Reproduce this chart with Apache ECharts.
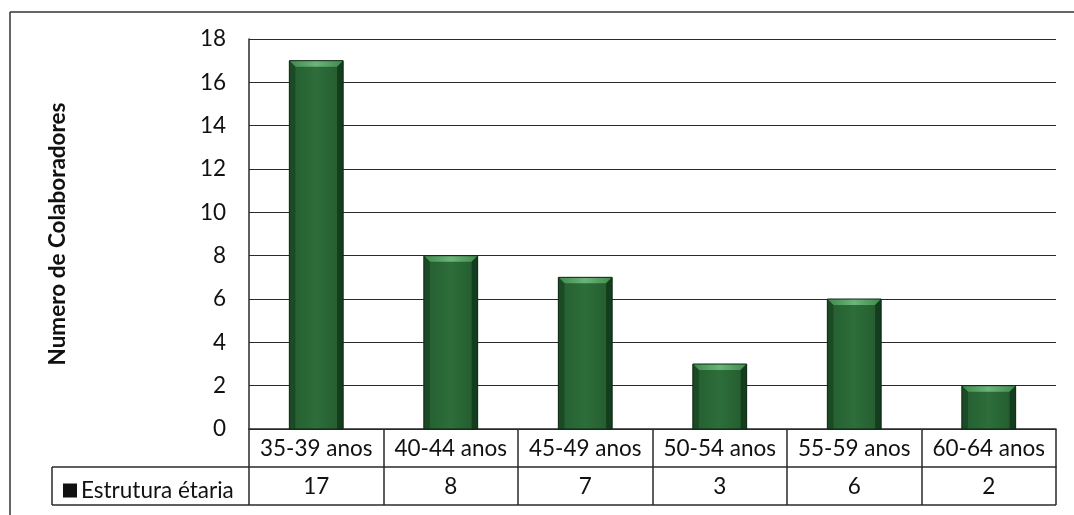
<!DOCTYPE html>
<html>
<head>
<meta charset="utf-8">
<script src="https://cdn.jsdelivr.net/npm/echarts@6/dist/echarts.min.js"></script>
<style>
  html, body { margin: 0; padding: 0; background: #fff; }
  #chart { width: 1074px; height: 515px; }
</style>
</head>
<body>
<div id="chart"></div>
<script>
// Age structure of staff
const categories = ['35-39 anos', '40-44 anos', '45-49 anos', '50-54 anos', '55-59 anos', '60-64 anos'];
const values = [17, 8, 7, 3, 6, 2];
const seriesName = 'Estrutura étaria';
const yTitle = 'Numero de Colaboradores';

const FONT = 'Lato';
const FS = 22.5;
const LINE = '#2a2a2a';

const chart = echarts.init(document.getElementById('chart'), null, { renderer: 'canvas' });

// Bevelled bar: face, light top bevel, darker side bevels, dark outline
function renderBevelBar(params, api) {
  const cat = api.value(0);
  const val = api.value(1);
  const top = api.coord([cat, val]);
  const base = api.coord([cat, 0]);
  const w = api.size([1, 0])[0] * 0.4;
  const x = top[0] - w / 2;
  const y0 = top[1];
  const y1 = base[1];
  const b = Math.min(6, (y1 - y0) / 3);
  return {
    type: 'group',
    children: [
      { type: 'rect', shape: { x: x, y: y0, width: w, height: y1 - y0 },
        style: { fill: new echarts.graphic.LinearGradient(0, 0, 1, 0, [
          { offset: 0, color: '#245d30' }, { offset: 0.5, color: '#2d6e3a' }, { offset: 1, color: '#235a2e' }]) } },
      { type: 'polygon', shape: { points: [[x, y0], [x + w, y0], [x + w - b, y0 + b], [x + b, y0 + b]] },
        style: { fill: new echarts.graphic.LinearGradient(0, 0, 1, 0, [
          { offset: 0, color: '#3f8a4c' }, { offset: 0.5, color: '#6cb47a' }, { offset: 1, color: '#3f8a4c' }]) } },
      { type: 'polygon', shape: { points: [[x, y0], [x + b, y0 + b], [x + b, y1], [x, y1]] },
        style: { fill: '#1b4a25' } },
      { type: 'polygon', shape: { points: [[x + w, y0], [x + w - b, y0 + b], [x + w - b, y1], [x + w, y1]] },
        style: { fill: '#143d1d' } },
      { type: 'rect', shape: { x: x, y: y0, width: w, height: y1 - y0 },
        style: { fill: 'none', stroke: '#0d2913', lineWidth: 1 } }
    ]
  };
}

const option = {
  backgroundColor: '#ffffff',
  animation: false,
  textStyle: { fontFamily: FONT },
  grid: { left: 249, right: 18, top: 39, bottom: 86, containLabel: false },
  legend: {
    data: [{ name: seriesName, icon: 'rect', itemStyle: { color: '#111' } }],
    left: 58, top: 474, itemWidth: 14, itemHeight: 14, itemGap: 4,
    selectedMode: false,
    textStyle: { fontFamily: FONT, fontSize: FS, color: '#111', padding: [0, 0, 0, -1] }
  },
  xAxis: [
    {
      type: 'category', data: categories, position: 'bottom',
      axisLine: { show: true, lineStyle: { color: LINE, width: 1.5 } },
      axisTick: { show: true, interval: 0, length: 76, lineStyle: { color: LINE, width: 1.5 } },
      axisLabel: { interval: 0, hideOverlap: false, fontFamily: FONT, fontSize: FS, color: '#111', margin: 8 },
      splitLine: { show: false }
    },
    {
      type: 'category', data: values.map(String), position: 'bottom', offset: 38,
      axisLine: { show: true, lineStyle: { color: LINE, width: 1.5 } },
      axisTick: { show: false },
      axisLabel: { interval: 0, hideOverlap: false, fontFamily: FONT, fontSize: FS, color: '#111', margin: 8 },
      splitLine: { show: false }
    }
  ],
  yAxis: {
    type: 'value', min: 0, max: 18, interval: 2,
    name: yTitle, nameLocation: 'middle', nameRotate: 90, nameGap: 180,
    nameTextStyle: { fontFamily: FONT, fontSize: FS, fontWeight: 'bold', color: '#111' },
    axisLine: { show: true, lineStyle: { color: LINE, width: 1.5 } },
    axisTick: { show: false },
    axisLabel: { fontFamily: FONT, fontSize: FS, color: '#111', margin: 23 },
    splitLine: { show: true, lineStyle: { color: LINE, width: 1.2 } }
  },
  series: [{
    name: seriesName,
    type: 'custom',
    xAxisIndex: 0,
    renderItem: renderBevelBar,
    encode: { x: 0, y: 1 },
    data: values.map((v, i) => [i, v]),
    z: 3
  }],
  graphic: [
    // outer chart frame (top and left edges)
    { type: 'line', shape: { x1: 10, y1: 12, x2: 1074, y2: 12 }, style: { stroke: '#333', lineWidth: 1.5 } },
    { type: 'line', shape: { x1: 10, y1: 12, x2: 10, y2: 515 }, style: { stroke: '#333', lineWidth: 1.5 } },
    // data table: legend cell and bottom edge
    { type: 'line', shape: { x1: 52, y1: 467, x2: 249, y2: 467 }, style: { stroke: LINE, lineWidth: 1.5 } },
    { type: 'line', shape: { x1: 52, y1: 467, x2: 52, y2: 505 }, style: { stroke: LINE, lineWidth: 1.5 } },
    { type: 'line', shape: { x1: 52, y1: 505, x2: 1056, y2: 505 }, style: { stroke: LINE, lineWidth: 1.5 } }
  ]
};

chart.setOption(option);
</script>
</body>
</html>
